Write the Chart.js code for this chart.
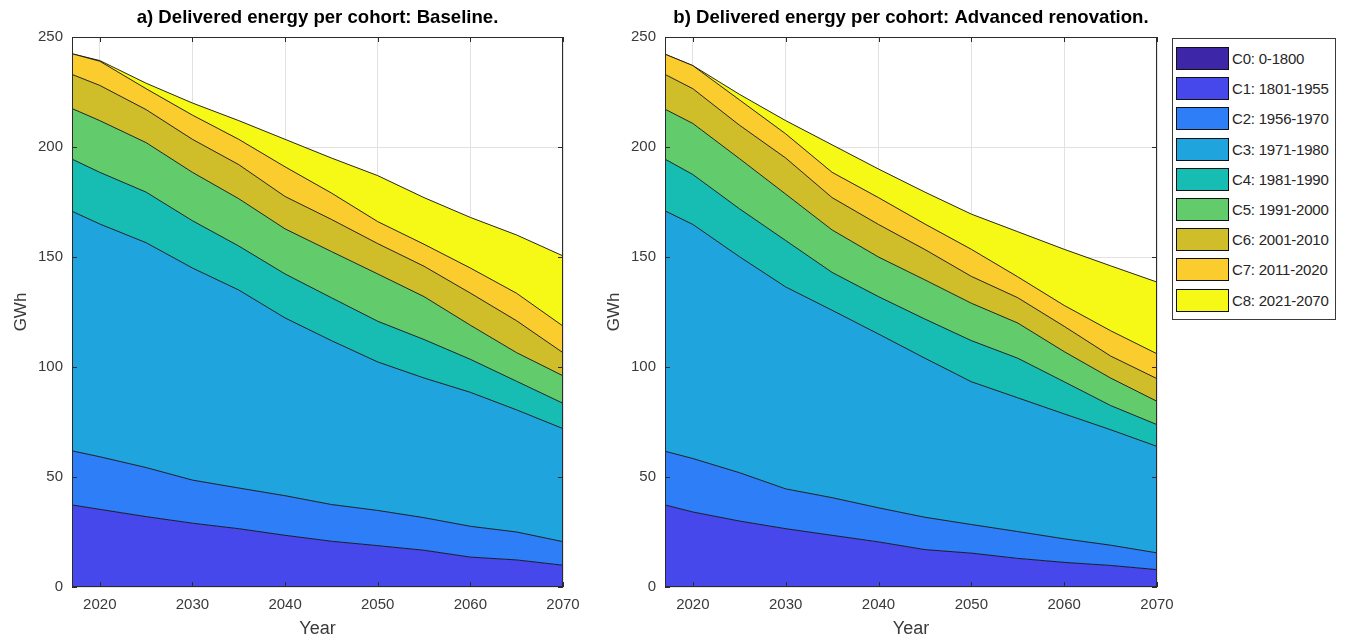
<!DOCTYPE html>
<html>
<head>
<meta charset="utf-8">
<script src="https://cdn.jsdelivr.net/npm/chart.js@4.4.1/dist/chart.umd.min.js"></script>
<style>
  body { margin:0; background:#fff; width:1345px; height:640px; overflow:hidden; position:relative; font-family:'Liberation Sans', Arial, sans-serif; }
  #c1 { position:absolute; left:0; top:0; }
  #c2 { position:absolute; left:593px; top:0; }
  #legend { position:absolute; left:1172px; top:38px; width:164px; height:282px; border:1px solid #3a3a3a; box-sizing:border-box; background:#fff; z-index:5; }
  .item { position:absolute; left:3px; height:23px; display:flex; align-items:center; white-space:nowrap; }
  .sw { width:51px; height:21px; border:1px solid #111; margin-right:3px; }
  .lab { font-size:15px; color:#262626; letter-spacing:-0.2px; }
</style>
</head>
<body>
<canvas id="c1" width="635" height="640"></canvas>
<canvas id="c2" width="636" height="640"></canvas>
<div id="legend"></div>
<script>
// ---------- data ----------
const years = [2017, 2020, 2025, 2030, 2035, 2040, 2045, 2050, 2055, 2060, 2065, 2070];
const xTicks = [2020, 2030, 2040, 2050, 2060, 2070];
const yTicks = [0, 50, 100, 150, 200, 250];
const cohortLabels = ['C0: 0-1800', 'C1: 1801-1955', 'C2: 1956-1970', 'C3: 1971-1980', 'C4: 1981-1990',
                      'C5: 1991-2000', 'C6: 2001-2010', 'C7: 2011-2020', 'C8: 2021-2070'];

// a) Baseline (GWh per cohort)
const baseC0 = [0, 0, 0, 0, 0, 0, 0, 0, 0, 0, 0, 0];
const baseC1 = [37.3, 35.3, 32.0, 29.0, 26.5, 23.5, 20.8, 18.8, 16.7, 13.6, 12.3, 9.9];
const baseC2 = [24.6, 23.9, 22.3, 19.6, 18.5, 18.0, 16.7, 16.0, 14.8, 14.0, 12.7, 10.7];
const baseC3 = [108.9, 105.8, 102.2, 96.4, 90.0, 80.8, 74.5, 67.5, 63.5, 60.9, 55.5, 51.4];
const baseC4 = [23.7, 23.5, 23.0, 21.5, 20.0, 20.0, 19.5, 18.5, 17.5, 15.0, 13.0, 11.5];
const baseC5 = [23.0, 23.5, 22.5, 22.0, 21.5, 20.5, 21.0, 21.5, 19.5, 15.5, 13.0, 12.5];
const baseC6 = [15.5, 16.0, 15.0, 15.0, 15.5, 14.7, 14.6, 13.8, 13.8, 14.6, 14.5, 10.5];
const baseC7 = [9.4, 11.0, 9.5, 11.0, 11.5, 13.5, 12.0, 10.0, 10.0, 11.4, 12.5, 12.1];
const baseC8 = [0, 0.3, 2.5, 5.5, 8.5, 12.5, 15.9, 20.9, 21.2, 23.0, 26.5, 31.9];

// b) Advanced renovation (GWh per cohort)
const advC0 = [0, 0, 0, 0, 0, 0, 0, 0, 0, 0, 0, 0];
const advC1 = [37.3, 34.1, 30.0, 26.5, 23.5, 20.5, 17.0, 15.4, 13.0, 11.2, 9.8, 7.9];
const advC2 = [24.4, 24.3, 22.0, 18.1, 17.1, 15.5, 14.7, 13.0, 12.2, 10.7, 9.2, 7.6];
const advC3 = [109.3, 106.4, 98.2, 91.8, 85.2, 79.0, 72.3, 64.9, 60.8, 56.8, 52.5, 48.4];
const advC4 = [23.5, 22.7, 21.8, 21.1, 17.2, 17.0, 17.8, 18.7, 18.0, 14.6, 11.0, 9.9];
const advC5 = [22.7, 23.2, 22.8, 21.1, 19.3, 18.0, 17.8, 17.0, 16.0, 13.7, 12.5, 10.6];
const advC6 = [15.8, 15.8, 15.2, 16.4, 14.7, 14.8, 13.8, 12.2, 11.5, 11.5, 10.0, 10.3];
const advC7 = [9.2, 10.5, 11.5, 11.0, 11.5, 12.2, 11.6, 12.3, 9.5, 9.5, 11.5, 11.3];
const advC8 = [0, 0, 2.5, 6.0, 12.5, 13.0, 14.5, 16.0, 20.5, 25.5, 29.5, 32.6];

// ---------- styles ----------
const cohortColors = ['#3e26a8', '#4748ec', '#2e7ef7', '#1fa4de', '#17bdb3', '#62cc6c', '#cfbe29', '#fbcc2d', '#f6f815'];
const FONT = "'Liberation Sans', Arial, sans-serif";

const boxPlugin = {
  id: 'box',
  afterDatasetsDraw(chart) {
    const { ctx, chartArea: a, scales } = chart;
    ctx.save();
    ctx.strokeStyle = '#2b2b2b';
    ctx.lineWidth = 1;
    ctx.strokeRect(Math.round(a.left) + 0.5, Math.round(a.top) + 0.5, Math.round(a.width) - 1, Math.round(a.height) - 1);
    ctx.beginPath();
    const tl = 5;
    scales.x.ticks.forEach(t => {
      const px = Math.round(scales.x.getPixelForValue(t.value)) + 0.5;
      ctx.moveTo(px, a.bottom); ctx.lineTo(px, a.bottom - tl);
      ctx.moveTo(px, a.top); ctx.lineTo(px, a.top + tl);
    });
    scales.y.ticks.forEach(t => {
      const py = Math.round(scales.y.getPixelForValue(t.value)) + 0.5;
      ctx.moveTo(a.left, py); ctx.lineTo(a.left + tl, py);
      ctx.moveTo(a.right, py); ctx.lineTo(a.right - tl, py);
    });
    ctx.stroke();
    ctx.restore();
  }
};

function makeChart(id, title, series) {
  const datasets = series.map((vals, i) => ({
    label: cohortLabels[i],
    data: years.map((yr, k) => ({ x: yr, y: vals[k] })),
    backgroundColor: cohortColors[i],
    borderColor: '#111',
    borderWidth: 0.9,
    fill: i === 0 ? 'origin' : '-1',
    pointRadius: 0,
    tension: 0
  }));
  return new Chart(document.getElementById(id), {
    type: 'line',
    data: { datasets },
    plugins: [boxPlugin],
    options: {
      responsive: false,
      animation: false,
      layout: { padding: { left: 0, right: 0, top: 0, bottom: 0 } },
      plugins: {
        legend: { display: false },
        tooltip: { enabled: false },
        title: { display: true, text: title, color: '#000', font: { family: FONT, size: 18.6, weight: 'bold' }, padding: { top: 7, bottom: 7.7 } }
      },
      scales: {
        x: {
          type: 'linear', min: 2017, max: 2070,
          afterBuildTicks: s => { s.ticks = xTicks.map(v => ({ value: v })); },
          afterFit: s => { s.height = 53; },
          grid: { color: '#e2e2e2', drawTicks: false },
          border: { display: false },
          ticks: { padding: 9, color: '#3a3a3a', font: { family: FONT, size: 15 }, callback: v => String(v), maxRotation: 0 },
          title: { display: true, text: 'Year', color: '#3a3a3a', font: { family: FONT, size: 18 }, padding: { top: 0, bottom: 0 } }
        },
        y: {
          stacked: true, min: 0, max: 250,
          afterBuildTicks: s => { s.ticks = yTicks.map(v => ({ value: v })); },
          afterFit: s => { s.width = 72; },
          grid: { color: '#e2e2e2', drawTicks: false },
          border: { display: false },
          ticks: { padding: 9, color: '#3a3a3a', font: { family: FONT, size: 15 }, callback: v => String(v) },
          title: { display: true, text: 'GWh', color: '#3a3a3a', font: { family: FONT, size: 17 }, padding: { top: 11, bottom: 0 } }
        },
        // empty spacer axis on the right so the title centres over the plot
        yRight: {
          position: 'right', min: 0, max: 1,
          afterFit: s => { s.width = 72; },
          grid: { display: false, drawTicks: false },
          border: { display: false },
          ticks: { display: false }
        }
      }
    }
  });
}

makeChart('c1', 'a) Delivered energy per cohort: Baseline.',
  [baseC0, baseC1, baseC2, baseC3, baseC4, baseC5, baseC6, baseC7, baseC8]);
makeChart('c2', 'b) Delivered energy per cohort: Advanced renovation.',
  [advC0, advC1, advC2, advC3, advC4, advC5, advC6, advC7, advC8]);

// legend (HTML)
const legend = document.getElementById('legend');
cohortLabels.forEach((lab, i) => {
  const it = document.createElement('div');
  it.className = 'item';
  it.style.top = (8 + i * 30.2) + 'px';
  const sw = document.createElement('div');
  sw.className = 'sw';
  sw.style.background = cohortColors[i];
  const tx = document.createElement('span');
  tx.className = 'lab';
  tx.textContent = lab;
  it.appendChild(sw); it.appendChild(tx);
  legend.appendChild(it);
});
</script>
</body>
</html>
